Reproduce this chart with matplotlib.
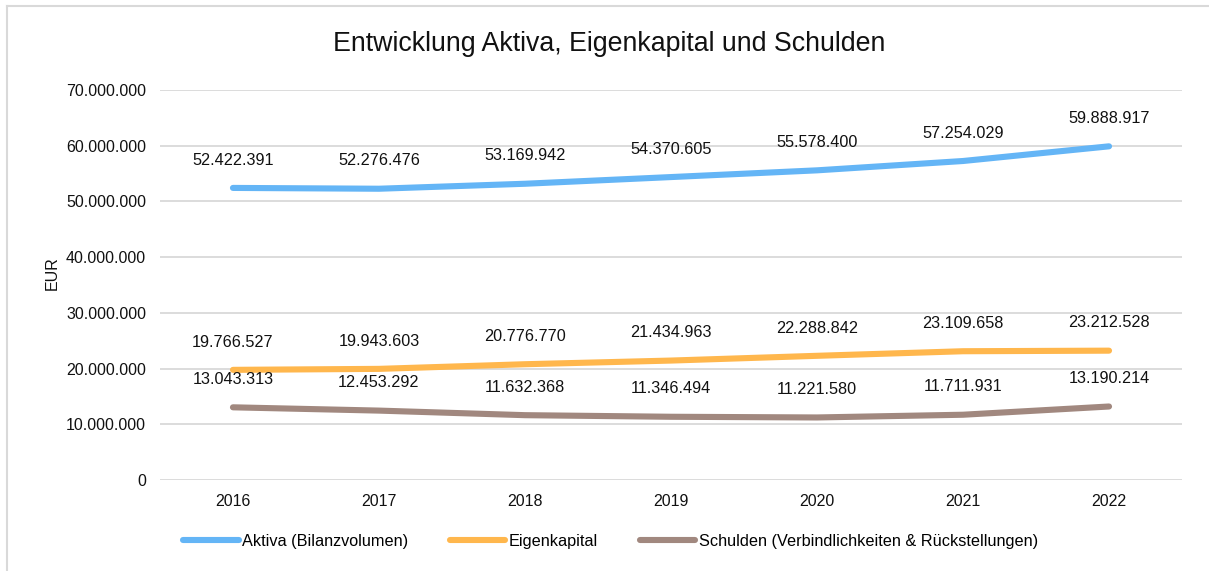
import matplotlib.pyplot as plt
from matplotlib.lines import Line2D
from matplotlib.ticker import FuncFormatter

plt.rcParams['font.family'] = ['Liberation Sans', 'DejaVu Sans']

years = ['2016', '2017', '2018', '2019', '2020', '2021', '2022']
aktiva = [52422391, 52276476, 53169942, 54370605, 55578400, 57254029, 59888917]
eigenkapital = [19766527, 19943603, 20776770, 21434963, 22288842, 23109658, 23212528]
schulden = [13043313, 12453292, 11632368, 11346494, 11221580, 11711931, 13190214]

series = [
    ('Aktiva (Bilanzvolumen)', aktiva, '#64B5F6'),
    ('Eigenkapital', eigenkapital, '#FFB74D'),
    ('Schulden (Verbindlichkeiten & Rückstellungen)', schulden, '#A1887F'),
]


def de_format(v):
    # German thousands separator
    return f'{int(round(v)):,}'.replace(',', '.')


fig = plt.figure(figsize=(12.09, 5.71), dpi=100)
ax = fig.add_axes([0.1323, 0.1594, 0.8454, 0.6830])

x = range(len(years))
handles = []
for name, vals, color in series:
    h, = ax.plot(x, vals, color=color, lw=4.4, solid_capstyle='round',
                 solid_joinstyle='round', label=name, zorder=3)
    handles.append(h)
    for xi, v in zip(x, vals):
        ax.annotate(de_format(v), (xi, v), xytext=(0, 20), textcoords='offset points',
                    ha='center', va='center', fontsize=11.7, color='#111111')

ax.set_xlim(-0.5, len(years) - 0.5)
ax.set_ylim(0, 70000000)
ax.set_yticks(range(0, 70000001, 10000000))
ax.yaxis.set_major_formatter(FuncFormatter(lambda v, p: de_format(v)))
ax.set_xticks(list(x))
ax.set_xticklabels(years)
ax.tick_params(axis='both', length=0, labelsize=11.5, colors='#111111')
ax.tick_params(axis='y', pad=10)
ax.tick_params(axis='x', pad=10)
ax.grid(axis='y', color='#D9D9D9', lw=1.3)
ax.set_axisbelow(True)
for s in ax.spines.values():
    s.set_visible(False)

ax.set_ylabel('EUR', fontsize=11.5, color='#111111')
ax.yaxis.set_label_coords(-0.098, 0.53)

fig.text(0.504, 0.923, 'Entwicklung Aktiva, Eigenkapital und Schulden',
         ha='center', va='center', fontsize=19.3, color='#111111')

fig.legend(handles=handles, loc='center', bbox_to_anchor=(0.505, 0.0525), ncol=3,
           frameon=False, fontsize=11.7, handlelength=3.4, handletextpad=0.2,
           columnspacing=2.6)

# chart frame (top and left edges)
fig.add_artist(Line2D([7 / 1209, 1], [1 - 6 / 571, 1 - 6 / 571],
                      transform=fig.transFigure, color='#D9D9D9', lw=1.5))
fig.add_artist(Line2D([7 / 1209, 7 / 1209], [0, 1 - 6 / 571],
                      transform=fig.transFigure, color='#D9D9D9', lw=1.5))

fig.savefig('out.png', dpi=100, facecolor='white')
